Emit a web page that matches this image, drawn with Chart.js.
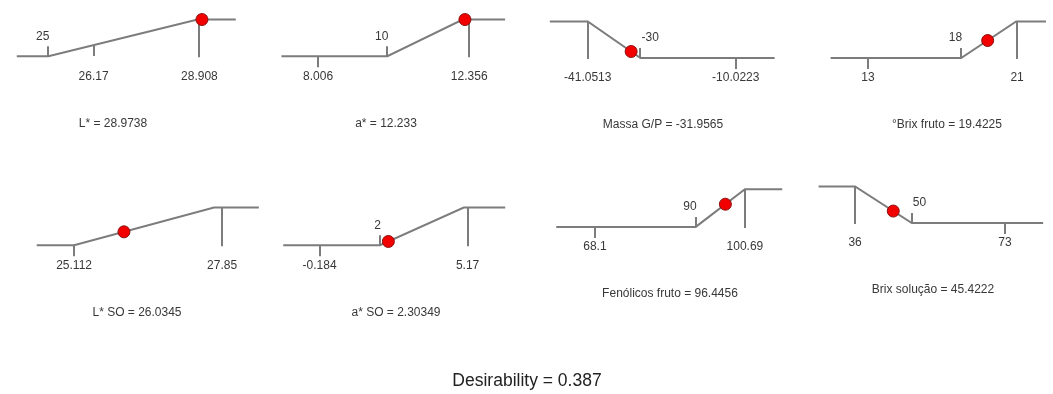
<!DOCTYPE html>
<html>
<head>
<meta charset="utf-8">
<title>Desirability profile</title>
<script src="https://cdn.jsdelivr.net/npm/chart.js@4"></script>
<style>
  html, body { margin: 0; padding: 0; background: #fff; }
  #wrap { width: 1053px; height: 394px; }
</style>
</head>
<body>
<div id="wrap"><canvas id="profile" width="1053" height="394"></canvas></div>
<script>
// Titulos de cada resposta (mostrados abaixo de cada perfil)
const panelTitles = [
  'L* = 28.9738', 'a* = 12.233', 'Massa G/P = -31.9565', '°Brix fruto = 19.4225',
  'L* SO = 26.0345', 'a* SO = 2.30349', 'Fenólicos fruto = 96.4456', 'Brix solução = 45.4222'
];

// Pontos de quebra da função de desejabilidade (x da resposta, d entre 0 e 1)
const profileX = [
  [24.18, 25, 28.86, 29.85],
  [6.95, 10, 12.17, 13.39],
  [-49.0, -41.0513, -30, -1.87],
  [11.0, 18, 20.95, 22.6],
  [24.42, 25.112, 27.70, 28.53],
  [-1.50, 2, 5.03, 6.53],
  [59.7, 90, 100.69, 108.8],
  [27.0, 36, 50, 82.4]
];
const profileD = [
  [0, 0, 1, 1], [0, 0, 1, 1], [1, 1, 0, 0], [0, 0, 1, 1],
  [0, 0, 1, 1], [0, 0, 1, 1], [0, 0, 1, 1], [1, 1, 0, 0]
];

// Marcas: 'up' = limite com rótulo acima, 'down' = rótulo abaixo, 'full' = vertical até o topo
const tickValues = [
  [25, 26.17, 28.908],
  [10, 8.006, 12.356],
  [-30, -10.0223, -41.0513],
  [18, 13, 21],
  [25.112, 27.85],
  [2, -0.184, 5.17],
  [90, 68.1, 100.69],
  [50, 73, 36]
];
const tickLabels = [
  ['25', '26.17', '28.908'],
  ['10', '8.006', '12.356'],
  ['-30', '-10.0223', '-41.0513'],
  ['18', '13', '21'],
  ['25.112', '27.85'],
  ['2', '-0.184', '5.17'],
  ['90', '68.1', '100.69'],
  ['50', '73', '36']
];
const tickKinds = [
  ['up', 'down', 'full'],
  ['up', 'down', 'full'],
  ['up', 'down', 'full'],
  ['up', 'down', 'full'],
  ['down', 'full'],
  ['up', 'down', 'full'],
  ['up', 'down', 'full'],
  ['up', 'down', 'full']
];

// Valor ótimo de cada resposta e sua desejabilidade
const optimumX = [28.9738, 12.233, -31.9565, 19.4225, 26.0345, 2.30349, 96.4456, 45.4222];
const optimumD = [1, 1, 0.18, 0.48, 0.356, 0.10, 0.603, 0.327];

const desirabilityText = 'Desirability = 0.387';

// --- posição de cada painel na figura (pixel de um valor, px por unidade, base, topo, centro do título) ---
const panelFrame = [
  { ref: 25, px: 42, k: 39.15, base: 51, top: 13, titleX: 113 },
  { ref: 10, px: 385.5, k: 35.2, base: 51, top: 13, titleX: 386 },
  { ref: -30, px: 642, k: 4.834, base: 53, top: 15, titleX: 663 },
  { ref: 18, px: 967, k: 18.9, base: 53, top: 15, titleX: 947 },
  { ref: 25.112, px: 68, k: 54.78, base: 247, top: 208, titleX: 137 },
  { ref: 2, px: 378, k: 28.02, base: 247, top: 208, titleX: 396 },
  { ref: 90, px: 698, k: 4.664, base: 228, top: 189, titleX: 670 },
  { ref: 50, px: 917, k: 4.108, base: 224, top: 186, titleX: 933 }
];

const W = 1053, H = 394;
const LINE = '#7c7c7c';
const TEXT = '#383838';
const FONT = '"Liberation Sans", Arial, sans-serif';

const scales = {};
const datasets = [];

panelFrame.forEach((f, i) => {
  const xmin = f.ref - f.px / f.k;
  scales['x' + i] = { type: 'linear', axis: 'x', display: false, min: xmin, max: xmin + W / f.k };
  const ky = f.base - f.top;
  const ymax = 1 + f.top / ky;
  scales['y' + i] = { type: 'linear', axis: 'y', display: false, min: ymax - H / ky, max: ymax };

  // ponto ótimo (desenhado por cima)
  datasets.push({
    type: 'scatter',
    data: [{ x: optimumX[i], y: optimumD[i] }],
    xAxisID: 'x' + i, yAxisID: 'y' + i,
    pointRadius: 6, pointHoverRadius: 6,
    backgroundColor: '#f20000', borderColor: '#8a1010', borderWidth: 1,
    order: 0
  });
  // perfil de desejabilidade
  datasets.push({
    type: 'line',
    data: profileX[i].map((x, j) => ({ x: x, y: profileD[i][j] })),
    xAxisID: 'x' + i, yAxisID: 'y' + i,
    borderColor: LINE, borderWidth: 2, pointRadius: 0, tension: 0, fill: false,
    order: 2
  });
});

function curveAt(i, v) {
  const xs = profileX[i], ds = profileD[i];
  for (let j = 0; j < xs.length - 1; j++) {
    if (v >= xs[j] && v <= xs[j + 1]) {
      return ds[j] + (ds[j + 1] - ds[j]) * (v - xs[j]) / (xs[j + 1] - xs[j]);
    }
  }
  return 0;
}

const profilePlugin = {
  id: 'profilePlugin',
  beforeDatasetsDraw(chart) {
    const ctx = chart.ctx;
    ctx.save();
    ctx.strokeStyle = LINE;
    ctx.lineWidth = 2;
    panelFrame.forEach((f, i) => {
      const xs = chart.scales['x' + i], ys = chart.scales['y' + i];
      const yBase = ys.getPixelForValue(0), yTop = ys.getPixelForValue(1);
      tickValues[i].forEach((v, j) => {
        const px = Math.round(xs.getPixelForValue(v));
        const kind = tickKinds[i][j];
        let y0, y1;
        if (kind === 'up') { y0 = yBase - 10; y1 = yBase; }
        else if (kind === 'down') { y0 = ys.getPixelForValue(curveAt(i, v)); y1 = y0 + 11; }
        else { y0 = yTop; y1 = yBase + 1; }
        ctx.beginPath();
        ctx.moveTo(px, y0);
        ctx.lineTo(px, y1);
        ctx.stroke();
      });
    });
    ctx.restore();
  },
  afterDraw(chart) {
    const ctx = chart.ctx;
    ctx.save();
    ctx.fillStyle = TEXT;
    ctx.textBaseline = 'middle';
    ctx.font = '12px ' + FONT;
    panelFrame.forEach((f, i) => {
      const xs = chart.scales['x' + i], ys = chart.scales['y' + i];
      const yBase = ys.getPixelForValue(0);
      const rising = profileD[i][0] === 0;
      tickValues[i].forEach((v, j) => {
        const px = xs.getPixelForValue(v);
        const kind = tickKinds[i][j];
        if (kind === 'up') {
          ctx.textAlign = rising ? 'right' : 'left';
          ctx.fillText(tickLabels[i][j], px + 1, yBase - 20);
        } else {
          ctx.textAlign = 'center';
          ctx.fillText(tickLabels[i][j], px, yBase + 20);
        }
      });
      ctx.textAlign = 'center';
      ctx.fillText(panelTitles[i], f.titleX, yBase + 67);
    });
    ctx.fillStyle = '#222';
    ctx.font = '17.5px ' + FONT;
    ctx.textAlign = 'center';
    ctx.fillText(desirabilityText, 527, 381);
    ctx.restore();
  }
};

new Chart(document.getElementById('profile'), {
  data: { datasets: datasets },
  options: {
    responsive: false,
    animation: false,
    layout: { padding: 0 },
    plugins: { legend: { display: false }, tooltip: { enabled: false } },
    events: [],
    scales: scales
  },
  plugins: [profilePlugin]
});
</script>
</body>
</html>
